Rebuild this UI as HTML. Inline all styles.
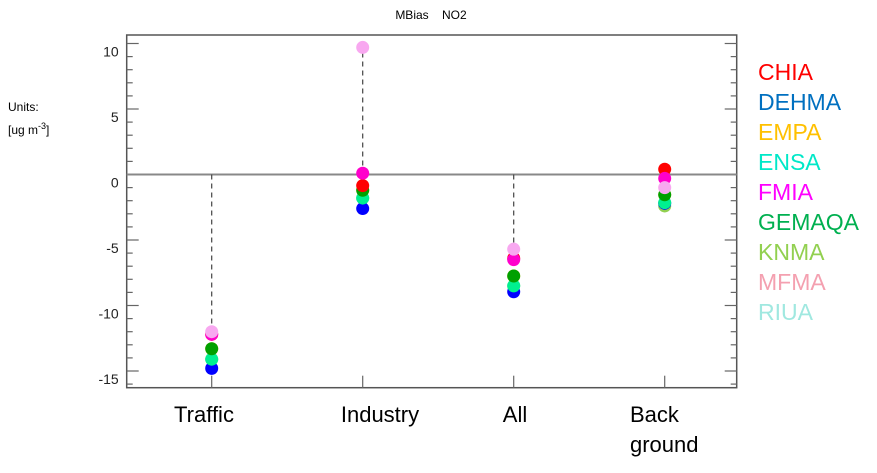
<!DOCTYPE html>
<html><head><meta charset="utf-8"><style>
body{margin:0;background:#fff;width:877px;height:468px;overflow:hidden;font-family:"Liberation Sans",sans-serif}
</style></head><body>
<svg width="877" height="468" xmlns="http://www.w3.org/2000/svg" font-family="Liberation Sans, sans-serif">
<text x="431" y="19" font-size="12" text-anchor="middle">MBias&#160;&#160;&#160;&#160;NO2</text>
<text x="8" y="111" font-size="12">Units:</text>
<text x="8" y="134" font-size="12">[ug m<tspan dy="-5" font-size="9">-3</tspan><tspan dy="5">]</tspan></text>
<g id="axes"></g>
<g id="marks"></g>
<g id="legend"></g>
</svg>
<script>
const categories=["Traffic","Industry","All","Back ground"];
const seriesNames=["KNMA","EMPA","RIUA","DEHMA","ENSA","GEMAQA","CHIA","FMIA","MFMA"];
const seriesColors=["#92d050","#ffc000","#a0e8e0","#0000ff","#00f090","#00a000","#ff0000","#ff00cc","#f8a8f0"];
const KNMA=[-14.1,-1.8,-8.5,-2.4];
const EMPA=[-13.3,-1.2,-7.75,-1.55];
const RIUA=[-14.1,-1.8,-8.5,-2.15];
const DEHMA=[-14.8,-2.6,-8.95,-2.2];
const ENSA=[-14.1,-1.8,-8.5,-2.15];
const GEMAQA=[-13.3,-1.2,-7.75,-1.55];
const CHIA=[-12.2,-0.85,-6.4,0.4];
const FMIA=[-12.2,0.1,-6.5,-0.3];
const MFMA=[-12.0,9.7,-5.7,-1.0];
const yTicks=[10,5,0,-5,-10,-15];
const legendNames=["CHIA","DEHMA","EMPA","ENSA","FMIA","GEMAQA","KNMA","MFMA","RIUA"];
const legendColors=["#ff0000","#0070c0","#ffc000","#00e8c8","#ff00ff","#00b050","#92d050","#f4a0b0","#a0e8e0"];
const allSeries=[KNMA,EMPA,RIUA,DEHMA,ENSA,GEMAQA,CHIA,FMIA,MFMA];
const labelX=[204,380,515,630];

const NS="http://www.w3.org/2000/svg";
const L=126.7,R=736.7,T=35,B=387.7;
const y=v=>174.5-v*13.1;
const x=i=>211.7+151*i;
function mk(tag,attrs,parent){const e=document.createElementNS(NS,tag);for(const k in attrs)e.setAttribute(k,attrs[k]);parent.appendChild(e);return e;}
const ax=document.getElementById('axes');
const frame=mk('rect',{x:L,y:T,width:R-L,height:B-T,fill:'none',stroke:'#555','stroke-width':1.5},ax);


for(let v=-16;v<=10;v++){
  const len=(v%5===0)?12:6;
  const t1=mk('line',{x1:L,x2:L+len,y1:y(v),y2:y(v),stroke:'#666','stroke-width':1.2},ax);
  
  
  const t2=mk('line',{x1:R,x2:R-len,y1:y(v),y2:y(v),stroke:'#666','stroke-width':1.2},ax);
  
  
}
yTicks.forEach(v=>{
  const t=mk('text',{x:L-8,y:y(v)+13,'font-size':14,'text-anchor':'end',fill:'#222'},ax);
  t.textContent=String(v);
  
  
});
const zl=mk('line',{x1:L,x2:R,y1:y(0),y2:y(0),stroke:'#888','stroke-width':2},ax);


categories.forEach((c,i)=>{
  const tk=mk('line',{x1:x(i),x2:x(i),y1:B,y2:B-12,stroke:'#666','stroke-width':1.2},ax);
  
  
  const parts=c.split(' ');
  const multi=parts.length>1;
  const t=mk('text',{x:labelX[i],y:422,'font-size':22,'text-anchor':multi?'start':'middle'},ax);
  parts.forEach((p,k)=>{const ts=mk('tspan',{x:labelX[i],dy:k?30:0},t);ts.textContent=p;});
  
  
});
const mg=document.getElementById('marks');
categories.forEach((c,i)=>{
  const d=mk('line',{x1:x(i),x2:x(i),y1:y(0),y2:y(MFMA[i]),stroke:'#444','stroke-width':1.2,'stroke-dasharray':'5,4'},mg);
  
  
});
allSeries.forEach((s,j)=>{
  s.forEach((v,i)=>{
    const c=mk('circle',{cx:x(i),cy:y(v),r:6.5,fill:seriesColors[j]},mg);
    
    
  });
});
const lg=document.getElementById('legend');
legendNames.forEach((n,k)=>{
  const t=mk('text',{x:758,y:80+k*30,'font-size':23,fill:legendColors[k]},lg);
  t.textContent=n;
  
  
});
</script>
</body></html>
